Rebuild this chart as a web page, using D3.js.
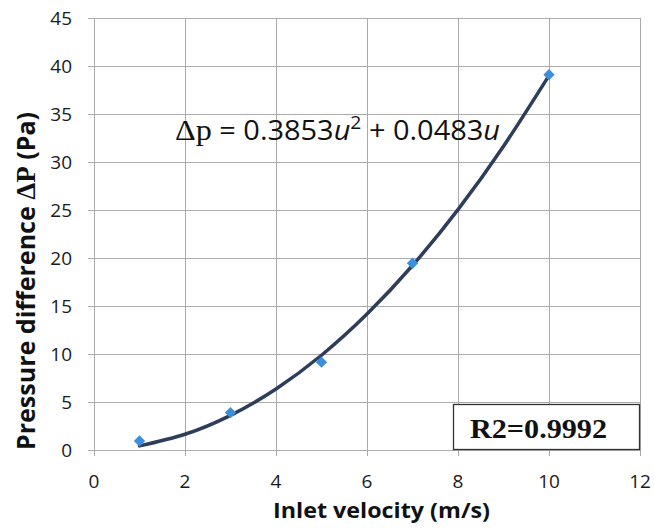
<!DOCTYPE html>
<html>
<head>
<meta charset="utf-8">
<script src="https://cdn.jsdelivr.net/npm/d3@7"></script>
<style>
  html, body { margin: 0; padding: 0; background: #fff; }
  svg { display: block; }
</style>
</head>
<body>
<svg id="chart" width="654" height="528"></svg>
<script>
// ---- data ----
const velocity = [1, 3, 5, 7, 10];
const pressure = [0.95, 3.9, 9.15, 19.45, 39.1];
// trendline readings (polynomial fit shown in chart)
const trendU = [1, 2, 3, 4, 5, 6, 7, 8, 9, 10];
const trendP = [0.43, 1.64, 3.61, 6.36, 9.87, 14.16, 19.22, 25.04, 31.64, 39.01];
const xTicks = [0, 2, 4, 6, 8, 10, 12];
const yTicks = [0, 5, 10, 15, 20, 25, 30, 35, 40, 45];
const xTitle = "Inlet velocity (m/s)";
const r2Label = "R2=0.9992";

// ---- layout ----
const svg = d3.select("#chart");
const x = d3.scaleLinear().domain([0, 12]).range([94, 640]);
const y = d3.scaleLinear().domain([0, 45]).range([450, 18]);
const gridColor = "#ababab";
const sans = "'Open Sans', sans-serif";

// grid
const g = svg.append("g");
g.selectAll("line.h").data(yTicks).join("line")
  .attr("x1", x(0) - 6).attr("x2", x(12))
  .attr("y1", d => y(d) + 0.5).attr("y2", d => y(d) + 0.5)
  .attr("stroke", gridColor).attr("stroke-width", 1);
g.selectAll("line.v").data(xTicks).join("line")
  .attr("x1", d => x(d) + 0.5).attr("x2", d => x(d) + 0.5)
  .attr("y1", y(45)).attr("y2", y(0) + 6)
  .attr("stroke", gridColor).attr("stroke-width", 1);

// tick labels
svg.append("g").selectAll("text").data(yTicks).join("text")
  .attr("x", 72).attr("y", d => y(d))
  .attr("dy", "0.36em")
  .attr("text-anchor", "end")
  .attr("font-family", sans).attr("font-size", 19).attr("fill", "#1a1a1a")
  .text(d => d);
svg.append("g").selectAll("text").data(xTicks).join("text")
  .attr("x", d => x(d)).attr("y", 488)
  .attr("text-anchor", "middle")
  .attr("font-family", sans).attr("font-size", 19).attr("fill", "#1a1a1a")
  .text(d => d);

// axis titles
svg.append("text")
  .attr("x", 273).attr("y", 518)
  .attr("font-family", sans).attr("font-weight", "bold").attr("font-size", 22)
  .attr("fill", "#111")
  .attr("textLength", 217).attr("lengthAdjust", "spacingAndGlyphs")
  .text(xTitle);

const yt = svg.append("text")
  .attr("transform", "translate(35,450) rotate(-90)")
  .attr("font-family", sans).attr("font-weight", "bold").attr("font-size", 25)
  .attr("fill", "#111")
  .attr("textLength", 338).attr("lengthAdjust", "spacingAndGlyphs");
yt.append("tspan").text("Pressure difference ");
yt.append("tspan").attr("font-family", "'Liberation Serif', serif").attr("font-size", 27).text("ΔP");
yt.append("tspan").text(" (Pa)");

// trendline
const line = d3.line().x(d => x(d[0])).y(d => y(d[1])).curve(d3.curveNatural);
svg.append("path")
  .datum(trendU.map((u, i) => [u, trendP[i]]))
  .attr("d", line)
  .attr("fill", "none").attr("stroke", "#2d3d5b").attr("stroke-width", 3.5)
  .attr("stroke-linecap", "round");

// markers
const sym = d3.symbol().type(d3.symbolSquare).size(64);
svg.append("g").selectAll("path").data(velocity.map((v, i) => [v, pressure[i]])).join("path")
  .attr("d", sym)
  .attr("transform", d => `translate(${x(d[0])},${y(d[1])}) rotate(45)`)
  .attr("fill", "#3b8fdb");

// equation label
const eq = svg.append("text")
  .attr("x", 175).attr("y", 140)
  .attr("font-family", sans).attr("font-size", 27).attr("fill", "#111")
  .attr("textLength", 325).attr("lengthAdjust", "spacingAndGlyphs");
eq.append("tspan").attr("font-family", "'Liberation Serif', serif").attr("font-size", 30).text("Δp");
eq.append("tspan").text(" = 0.3853");
eq.append("tspan").attr("font-style", "italic").text("u");
eq.append("tspan").attr("font-size", 18).attr("dy", -11).text("2");
eq.append("tspan").attr("dy", 11).text(" + 0.0483");
eq.append("tspan").attr("font-style", "italic").text("u");

// R2 box
svg.append("rect")
  .attr("x", 453.5).attr("y", 404.5).attr("width", 186).attr("height", 45)
  .attr("fill", "#fff").attr("stroke", "#333").attr("stroke-width", 1.3);
svg.append("text")
  .attr("x", 470).attr("y", 438)
  .attr("font-family", "'Liberation Serif', serif").attr("font-weight", "bold")
  .attr("font-size", 27).attr("fill", "#111")
  .attr("textLength", 137).attr("lengthAdjust", "spacingAndGlyphs")
  .text(r2Label);
</script>
</body>
</html>
